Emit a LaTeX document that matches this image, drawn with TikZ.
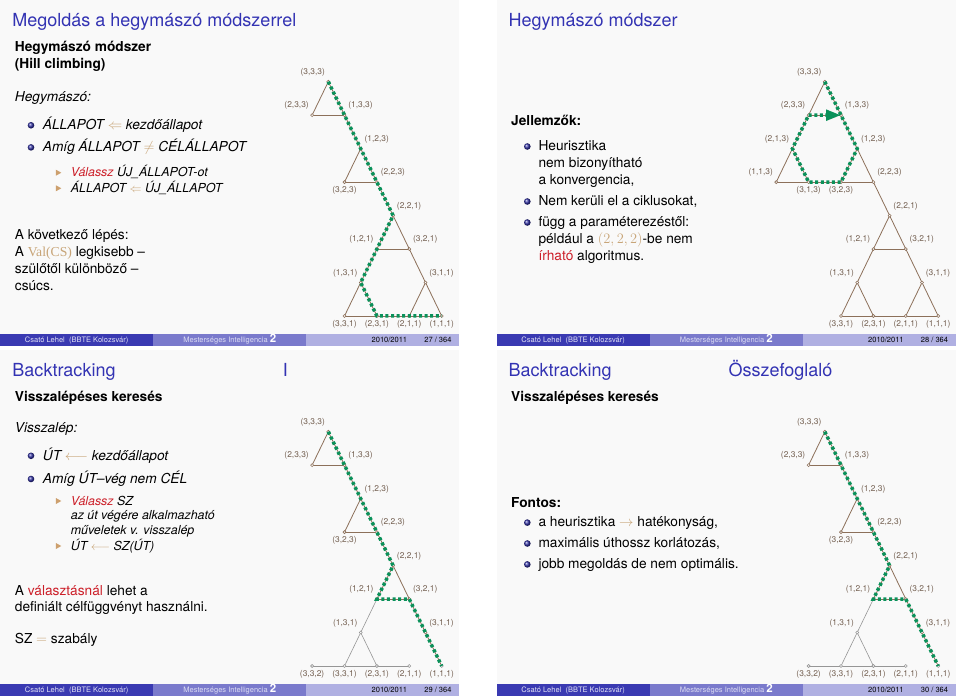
\documentclass[tikz,border=0pt]{standalone}
\usepackage{fontspec}
\setmainfont{TeX Gyre Heros}
\newfontfamily\serifmath{Liberation Serif}
\usetikzlibrary{arrows.meta}
\definecolor{titleblue}{RGB}{51,51,179}
\definecolor{ballblue}{RGB}{50,50,165}
\definecolor{tricol}{RGB}{205,160,110}
\definecolor{alertred}{RGB}{204,30,40}
\definecolor{mathtan}{RGB}{200,165,120}
\definecolor{slidebg}{RGB}{249,249,249}
\definecolor{footA}{RGB}{58,58,178}
\definecolor{footB}{RGB}{122,122,204}
\definecolor{footC}{RGB}{176,176,226}
\definecolor{footAtext}{RGB}{225,225,245}
\definecolor{footBtext}{RGB}{220,220,242}
\definecolor{treebrown}{RGB}{140,112,90}
\definecolor{treegray}{RGB}{150,150,150}
\definecolor{labbrown}{RGB}{115,95,80}
\definecolor{pathgreen}{RGB}{10,145,90}

\newcommand\fsTitle{\fontsize{18}{21}\selectfont}
\newcommand\fsBody{\fontsize{13.7}{16.8}\selectfont}
\newcommand\fsSmall{\fontsize{12.4}{15}\selectfont}
\newcommand\fsLab{\fontsize{8.4}{10}\selectfont}
\newcommand\fsFoot{\fontsize{7.5}{9}\selectfont}
\newcommand\alr[1]{\textcolor{alertred}{#1}}
\newcommand\mtan[1]{\textcolor{mathtan}{#1}}
\newcommand\hanoitriple[3]{(#1,#2,#3)}

\tikzset{
  ttl/.style={anchor=base west, inner sep=0pt, font=\fsTitle, text=titleblue},
  txt/.style={anchor=base west, inner sep=0pt, font=\fsBody, text=black},
  btxt/.style={anchor=base west, inner sep=0pt, font=\fsBody\bfseries, text=black},
  itxt/.style={anchor=base west, inner sep=0pt, font=\fsBody\itshape, text=black},
  stxt/.style={anchor=base west, inner sep=0pt, font=\fsSmall\itshape, text=black},
  tlab/.style={inner sep=0pt, font=\fsLab, text=labbrown},
  tedge/.style={draw=treebrown, line width=0.8pt},
  gedge/.style={draw=treegray, line width=0.6pt},
  tdot/.style={draw=treebrown, fill=white, line width=0.6pt},
  gdot/.style={draw=treegray, fill=white, line width=0.6pt},
  gpath/.style={draw=pathgreen, line width=3.5pt, dash pattern=on 3pt off 2.6pt},
  foot/.style={anchor=base, inner sep=0pt, font=\fsFoot},
}

\newcommand\mkball[2]{\shade[ball color=ballblue] (#1,#2) circle (3.3);}
\newcommand\mktri[2]{\fill[tricol] (#1,#2) ++(-2.4,-3) -- ++(5.4,3) -- ++(-5.4,3) -- cycle;}

\newcommand\mkslide[2]{%
  \fill[slidebg] (0,0) rectangle (459.3,345.5);
  \fill[footA] (0,333.5) rectangle (153.1,345.5);
  \fill[footB] (153.1,333.5) rectangle (306.2,345.5);
  \fill[footC] (306.2,333.5) rectangle (459.3,345.5);
  \node[foot, text=footAtext] (#1-fa) at (76.6,342) {Csató Lehel\ \ (BBTE Kolozsvár)};
  \node[foot, text=footBtext] (#1-fb) at (229.8,342) {Mesterséges Intelligencia\ {\color{white}\fontsize{11.5}{12}\selectfont\bfseries 2}};
  \node[foot, anchor=base west, text=black] (#1-fc) at (371.5,342) {2010/2011};
  \node[foot, anchor=base east, text=black] (#1-fd) at (451.7,342) {#2 / 364};
}

\newcommand\mktree[1]{%
  \foreach \nn/\cc/\rr in {333/0/0,233/-1/1,133/1/1,213/-2/2,123/2/2,113/-3/3,313/-1/3,323/1/3,223/3/3,221/4/4,121/3/5,321/5/5,131/2/6,311/6/6,332/-1/7,331/1/7,231/3/7,211/5/7,111/7/7}%
    {\coordinate (#1-\nn) at ({328.3+\cc*16.2},{81.7+\rr*33.47});}%
}
\newcommand\mkedges[3]{\foreach \ea/\eb in {#3}{\draw[#2] (#1-\ea) -- (#1-\eb);}}
\newcommand\mkdots[3]{\foreach \ea in {#3}{\draw[#2] (#1-\ea) circle (1.5);}}
\newcommand\mklabs[2]{%
  \foreach \ea/\ep in {#2}{%
    \if\ep l\def\lbdx{-15.5}\def\lbdy{-9.5}\fi
    \if\ep r\def\lbdx{16}\def\lbdy{-9.5}\fi
    \if\ep b\def\lbdx{0}\def\lbdy{8.5}\fi
    \node[tlab, shift={(\lbdx,\lbdy)}] (#1-\ea-l) at (#1-\ea) {\expandafter\hanoitriple\ea};
  }%
}

\begin{document}
\begin{tikzpicture}[x=1pt,y=-1pt]
\useasboundingbox (0,0) rectangle (960,699);
\fill[white] (0,0) rectangle (960,699);

% ================= Slide 1 =================
\begin{scope}
\mkslide{s1}{27}
\node[ttl] (s1-t) at (12.2,26) {Megoldás a hegymászó módszerrel};
\node[btxt] (s1-b1) at (14.7,51.7) {Hegymászó módszer};
\node[btxt] (s1-b2) at (14.7,68.3) {(Hill climbing)};
\node[itxt] (s1-h) at (14.7,101.7) {Hegymászó:};
\mkball{31}{125.3}
\node[itxt] (s1-i1) at (42.7,129.6) {ÁLLAPOT \mtan{$\Leftarrow$} kezdőállapot};
\mkball{31}{147.4}
\node[itxt] (s1-i2) at (42.7,151.7) {Amíg ÁLLAPOT \mtan{$\neq$} CÉLÁLLAPOT};
\mktri{58.3}{172.7}
\node[stxt] (s1-s1) at (70.7,176.7) {\alr{Válassz} ÚJ\_ÁLLAPOT-ot};
\mktri{58.3}{188.3}
\node[stxt] (s1-s2) at (70.7,192.3) {ÁLLAPOT \mtan{$\Leftarrow$} ÚJ\_ÁLLAPOT};
\node[txt] (s1-k1) at (14.7,239.5) {A következő lépés:};
\node[txt] (s1-k2) at (14.7,256.4) {A \mtan{\serifmath Val(CS)} legkisebb –};
\node[txt] (s1-k3) at (14.7,273.3) {szülőtől különböző –};
\node[txt] (s1-k4) at (14.7,290.1) {csúcs.};
\mktree{s1}
\mkedges{s1}{tedge}{333/233,333/133,233/133,133/123,123/323,123/223,323/223,223/221,221/121,221/321,121/321,121/131,321/311,131/331,131/231,331/231,231/211,211/111,311/211,311/111}
\mkdots{s1}{tdot}{333,233,133,123,323,223,221,121,321,131,311,331,231,211,111}
\draw[gpath] (s1-333) -- (s1-133) -- (s1-123) -- (s1-223) -- (s1-221) -- (s1-121) -- (s1-131) -- (s1-231) -- (s1-211) -- (s1-111);
\mklabs{s1}{333/l,233/l,133/r,123/r,323/b,223/r,221/r,121/l,321/r,131/l,311/r,331/b,231/b,211/b,111/b}
\end{scope}

% ================= Slide 2 =================
\begin{scope}[shift={(496.5,0)}]
\mkslide{s2}{28}
\node[ttl] (s2-t) at (11.8,26) {Hegymászó módszer};
\node[btxt] (s2-j) at (14.5,125.7) {Jellemzők:};
\mkball{30.8}{146.5}
\node[txt] (s2-a1) at (41.8,150.7) {Heurisztika};
\node[txt] (s2-a2) at (41.8,167.5) {nem bizonyítható};
\node[txt] (s2-a3) at (41.8,184.3) {a konvergencia,};
\mkball{30.8}{201.5}
\node[txt] (s2-b1) at (41.8,205.7) {Nem kerüli el a ciklusokat,};
\mkball{30.8}{222.5}
\node[txt] (s2-c1) at (41.8,226.7) {függ a paraméterezéstől:};
\node[txt] (s2-c2) at (41.8,243.5) {például a \mtan{$(2,2,2)$}-be nem};
\node[txt] (s2-c3) at (41.8,260.5) {\alr{írható} algoritmus.};
\mktree{s2}
\mkedges{s2}{tedge}{333/233,233/213,213/113,333/133,133/123,123/223,113/313,313/323,323/223,233/133,213/313,123/323,223/221,221/121,221/321,121/321,121/131,321/311,131/331,131/231,331/231,231/211,211/111,311/211,311/111}
\mkdots{s2}{tdot}{333,233,133,213,123,113,313,323,223,221,121,321,131,311,331,231,211,111}
\draw[gpath, -{Triangle[length=15pt,width=10.5pt]}] (s2-333) -- (s2-133) -- (s2-123) -- (s2-323) -- (s2-313) -- (s2-213) -- (s2-233) -- (s2-133);
\mklabs{s2}{333/l,233/l,133/r,213/l,123/r,113/l,313/b,323/b,223/r,221/r,121/l,321/r,131/l,311/r,331/b,231/b,211/b,111/b}
\end{scope}

% ================= Slide 3 =================
\begin{scope}[shift={(0,350)}]
\mkslide{s3}{29}
\node[ttl] (s3-t) at (12.2,26) {Backtracking};
\node[ttl] (s3-t2) at (282.6,26) {I};
\node[btxt] (s3-b1) at (14.7,51.7) {Visszalépéses keresés};
\node[itxt] (s3-h) at (14.7,82.7) {Visszalép:};
\mkball{31}{105.8}
\node[itxt] (s3-i1) at (42.7,110) {ÚT \mtan{$\longleftarrow$} kezdőállapot};
\mkball{31}{129}
\node[itxt] (s3-i2) at (42.7,133.3) {Amíg ÚT–vég nem CÉL};
\mktri{58.3}{151}
\node[stxt] (s3-s1) at (70.7,155) {\alr{Válassz} SZ};
\node[stxt] (s3-s2) at (70.7,169.6) {az út végére alkalmazható};
\node[stxt] (s3-s3) at (70.7,184.4) {műveletek v. visszalép};
\mktri{58.3}{196}
\node[stxt] (s3-s4) at (70.7,200) {ÚT \mtan{$\longleftarrow$} SZ(ÚT)};
\node[txt] (s3-k1) at (14.7,245) {A \alr{választásnál} lehet a};
\node[txt] (s3-k2) at (14.7,261.7) {definiált célfüggvényt használni.};
\node[txt] (s3-k3) at (14.7,293.3) {SZ \mtan{$=$} szabály};
\mktree{s3}
\mkedges{s3}{tedge}{333/233,333/133,233/133,133/123,123/323,123/223,323/223,223/221,221/121,221/321,121/321,321/311,311/111}
\mkedges{s3}{gedge}{121/131,131/331,131/231,332/331,331/231,231/211}
\mkdots{s3}{tdot}{333,233,133,123,323,223,221,121,321,311}
\mkdots{s3}{gdot}{131,332,331,231,211,111}
\draw[gpath] (s3-333) -- (s3-133) -- (s3-123) -- (s3-223) -- (s3-221) -- (s3-121) -- (s3-321) -- (s3-311) -- (s3-111);
\mklabs{s3}{333/l,233/l,133/r,123/r,323/b,223/r,221/r,121/l,321/r,131/l,311/r,332/b,331/b,231/b,211/b,111/b}
\end{scope}

% ================= Slide 4 =================
\begin{scope}[shift={(496.5,350)}]
\mkslide{s4}{30}
\node[ttl] (s4-t) at (11.8,26) {Backtracking};
\node[ttl] (s4-t2) at (231.8,26) {Összefoglaló};
\node[btxt] (s4-b1) at (14.5,51.7) {Visszalépéses keresés};
\node[btxt] (s4-f) at (14.5,157.2) {Fontos:};
\mkball{30.8}{172.6}
\node[txt] (s4-i1) at (41.8,176.8) {a heurisztika \mtan{$\rightarrow$} hatékonyság,};
\mkball{30.8}{193.5}
\node[txt] (s4-i2) at (41.8,197.7) {maximális úthossz korlátozás,};
\mkball{30.8}{214.4}
\node[txt] (s4-i3) at (41.8,218.6) {jobb megoldás de nem optimális.};
\mktree{s4}
\mkedges{s4}{tedge}{333/233,333/133,233/133,133/123,123/323,123/223,323/223,223/221,221/121,221/321,121/321,321/311,311/111}
\mkedges{s4}{gedge}{121/131,131/331,131/231,332/331,331/231,231/211}
\mkdots{s4}{tdot}{333,233,133,123,323,223,221,121,321,311}
\mkdots{s4}{gdot}{131,332,331,231,211,111}
\draw[gpath] (s4-333) -- (s4-133) -- (s4-123) -- (s4-223) -- (s4-221) -- (s4-121) -- (s4-321) -- (s4-311) -- (s4-111);
\mklabs{s4}{333/l,233/l,133/r,123/r,323/b,223/r,221/r,121/l,321/r,131/l,311/r,332/b,331/b,231/b,211/b,111/b}
\end{scope}
\end{tikzpicture}
\end{document}
